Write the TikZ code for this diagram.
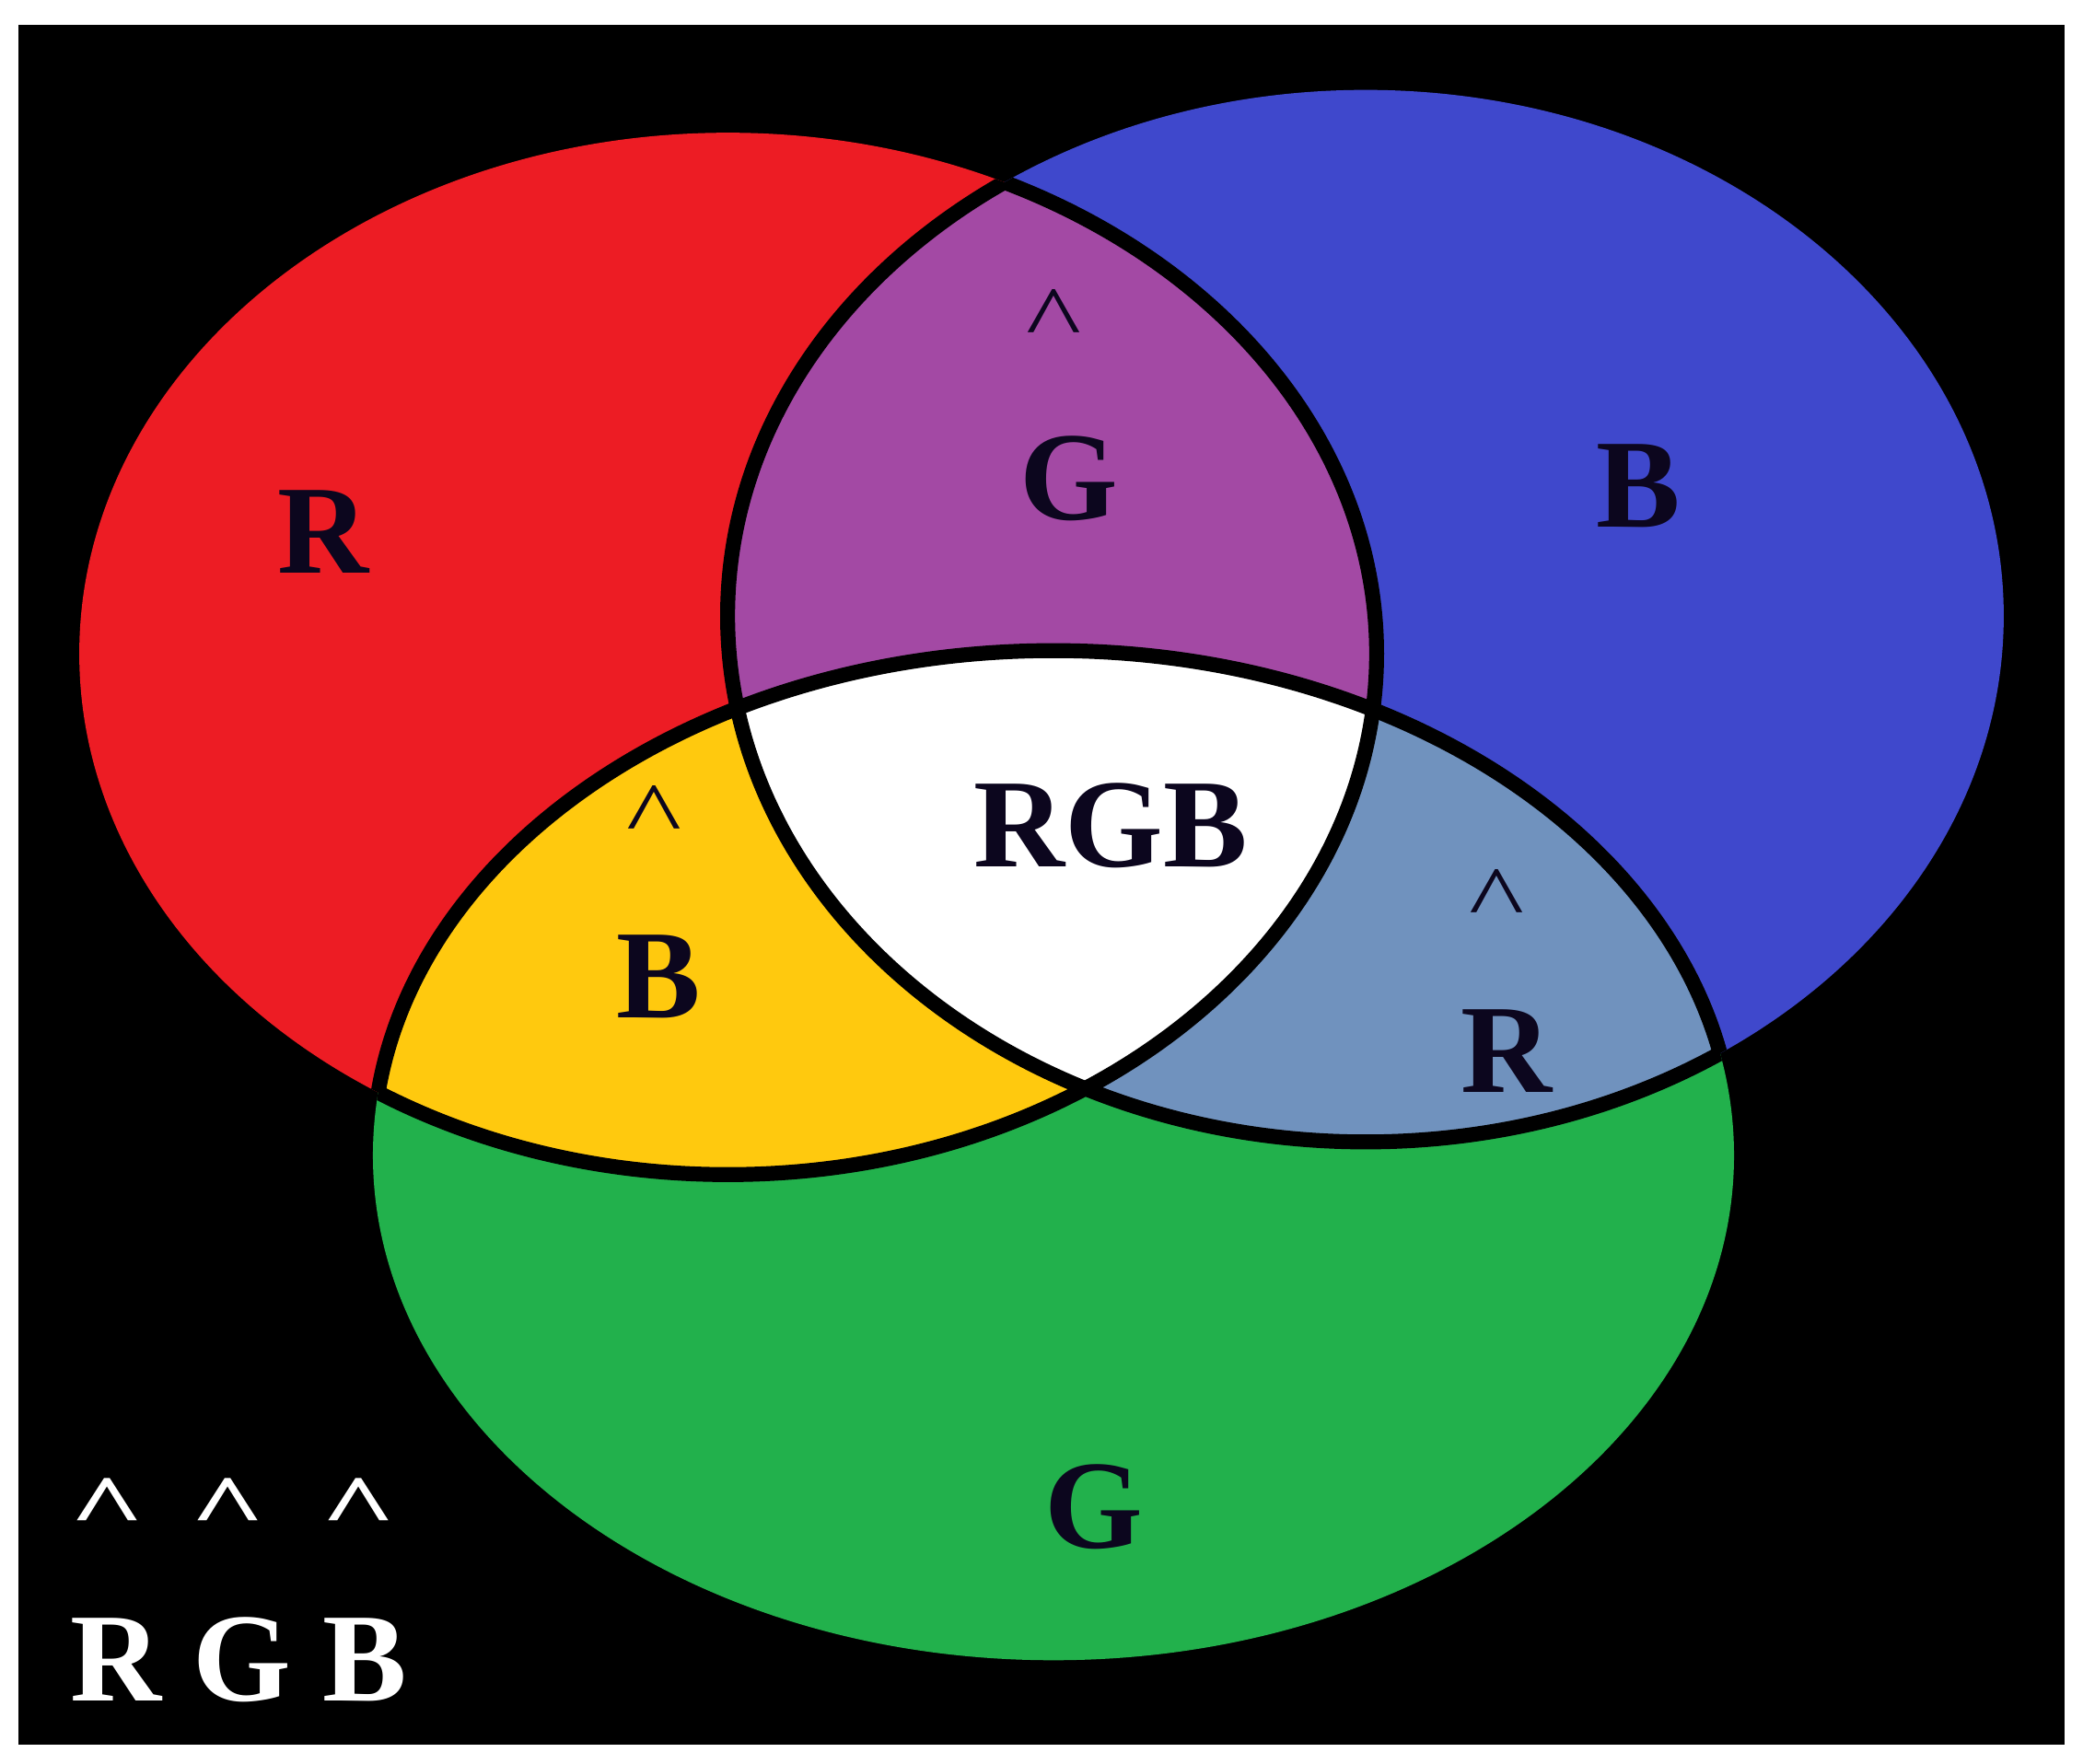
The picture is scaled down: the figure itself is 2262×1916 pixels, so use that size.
\documentclass[tikz,border=0pt]{standalone}
\usepackage{fontspec}
\setmainfont{Liberation Serif}
\definecolor{cR}{HTML}{ED1C24}
\definecolor{cB}{HTML}{3F48CC}
\definecolor{cG}{HTML}{22B14C}
\definecolor{cP}{HTML}{A349A4}
\definecolor{cY}{HTML}{FFC90E}
\definecolor{cL}{HTML}{7092BE}
\definecolor{txt}{RGB}{12,6,30}
\newcommand{\flatcaret}{\scalebox{0.93}[0.735]{\textasciicircum}}
\newcommand{\keycaret}{\scalebox{1.03}[0.72]{\textasciicircum}}
\begin{document}
\begin{tikzpicture}[x=0.01cm,y=-0.01cm,
  ellR/.style={insert path={(790.5,710) ellipse [x radius=7.04cm, y radius=5.655cm]}},
  ellB/.style={insert path={(1483,669) ellipse [x radius=6.925cm, y radius=5.71cm]}},
  ellG/.style={insert path={(1144,1255) ellipse [x radius=7.386cm, y radius=5.48cm]}},
  outline/.style={draw=black, line width=4.6pt},
  lbl/.style={font=\fontsize{39}{45}\selectfont\bfseries, text=txt, inner sep=0pt, anchor=base},
  car/.style={font=\fontsize{39}{45}\selectfont, text=txt, inner sep=0pt, anchor=base},
  key/.style={font=\fontsize{39}{45}\selectfont\bfseries, text=white, inner sep=0pt, anchor=base}]
\useasboundingbox (0,0) rectangle (2262,1916);
\fill[white] (0,0) rectangle (2262,1916);
\fill[black] (20,27) rectangle (2242,1895);
% base fills
\fill[cR] [ellR];
\fill[cB] [ellB];
\fill[cG] [ellG];
% pairwise overlaps
\begin{scope}\clip[ellR]; \fill[cP] [ellB]; \end{scope}
\begin{scope}\clip[ellR]; \fill[cY] [ellG]; \end{scope}
\begin{scope}\clip[ellB]; \fill[cL] [ellG]; \end{scope}
% triple overlap
\begin{scope}\clip[ellR]; \clip[ellB]; \fill[white] [ellG]; \end{scope}
% outlines (only where they lie inside another set)
\begin{scope}\clip[ellB][ellG]; \path[outline] [ellR]; \end{scope}
\begin{scope}\clip[ellR][ellG]; \path[outline] [ellB]; \end{scope}
\begin{scope}\clip[ellR][ellB]; \path[outline] [ellG]; \end{scope}
% labels
\node[lbl] (lR) at (351,623) {R};
\node[lbl] (lB) at (1779,573) {B};
\node[lbl] (lG) at (1188,1682) {G};
\node[car] (cPc) at (1144,381) {\flatcaret};
\node[lbl] (lPG) at (1161,565) {G};
\node[car] (cYc) at (710,920) {\flatcaret};
\node[lbl] (lYB) at (715,1106) {B};
\node[car] (cLc) at (1625,1011) {\flatcaret};
\node[lbl] (lLR) at (1636,1187) {R};
\node[lbl] (lRGB) at (1206,942) {RGB};
% key
\node[key] (k1) at (117,1671) {\keycaret};
\node[key] (k2) at (248,1671) {\keycaret};
\node[key] (k3) at (390,1671) {\keycaret};
\node[key] (kRGB) at (259,1848) {R G B};
\end{tikzpicture}
\end{document}
